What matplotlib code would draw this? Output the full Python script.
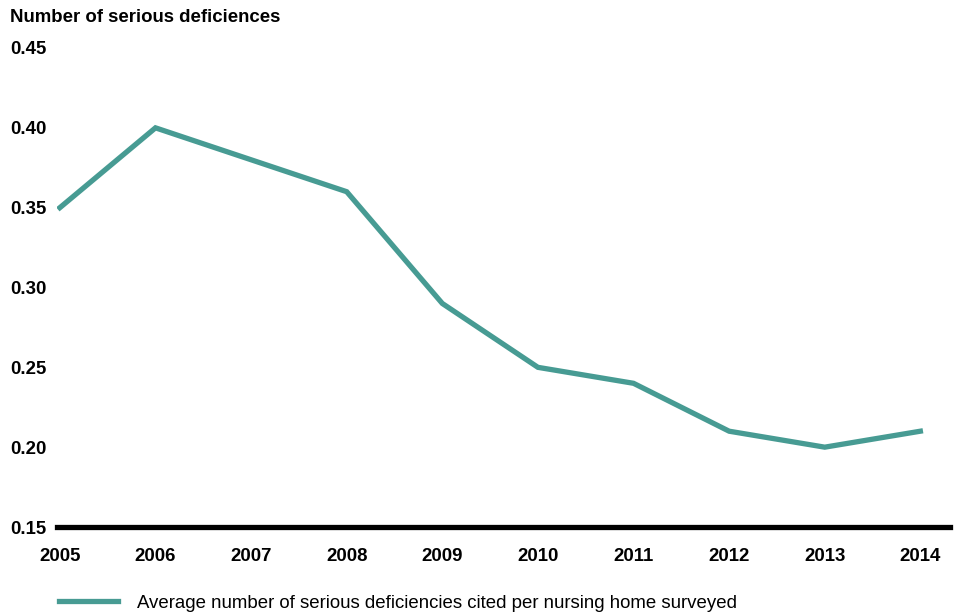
import matplotlib.pyplot as plt

# average serious deficiencies per surveyed nursing home, by year
years = [2005, 2006, 2007, 2008, 2009, 2010, 2011, 2012, 2013, 2014]
deficiencies = [0.35, 0.40, 0.38, 0.36, 0.29, 0.25, 0.24, 0.21, 0.20, 0.21]
yticks = [0.15, 0.20, 0.25, 0.30, 0.35, 0.40, 0.45]

teal = "#479b93"
fs = 13.4
plt.rcParams['font.family'] = ['Liberation Sans', 'DejaVu Sans']

fig = plt.figure(figsize=(9.62, 6.16), dpi=100)
ax = fig.add_axes([57/962, 1-527/616, (950-57)/962, (527-48)/616])

line, = ax.plot(years, deficiencies, color=teal, lw=3.8, solid_joinstyle='miter',
                label="Average number of serious deficiencies cited per nursing home surveyed")

ax.set_xlim(2004.97, 2014.31)
ax.set_ylim(0.15, 0.45)
ax.set_xticks(years)
ax.set_xticklabels([str(y) for y in years], fontsize=fs, fontweight='bold')
ax.set_yticks(yticks)
ax.set_yticklabels(["%.2f" % v for v in yticks], fontsize=fs, fontweight='bold')
ax.tick_params(length=0)
ax.tick_params(axis='x', pad=15)
# y labels flush left at the figure edge
for lab in ax.get_yticklabels():
    lab.set_horizontalalignment('left')
ax.tick_params(axis='y', pad=34)

for s in ['top', 'right', 'left']:
    ax.spines[s].set_visible(False)
ax.spines['bottom'].set_linewidth(3.8)
ax.spines['bottom'].set_color('black')

fig.text(10/962, 1-17/616, "Number of serious deficiences", fontsize=fs,
         fontweight='bold', va='center', ha='left')

fig.legend(handles=[line], loc='center left', bbox_to_anchor=(42/962, 1-603/616),
           frameon=False, fontsize=fs, handlelength=3.2, handletextpad=1.0)

fig.savefig("out.png", dpi=100)
